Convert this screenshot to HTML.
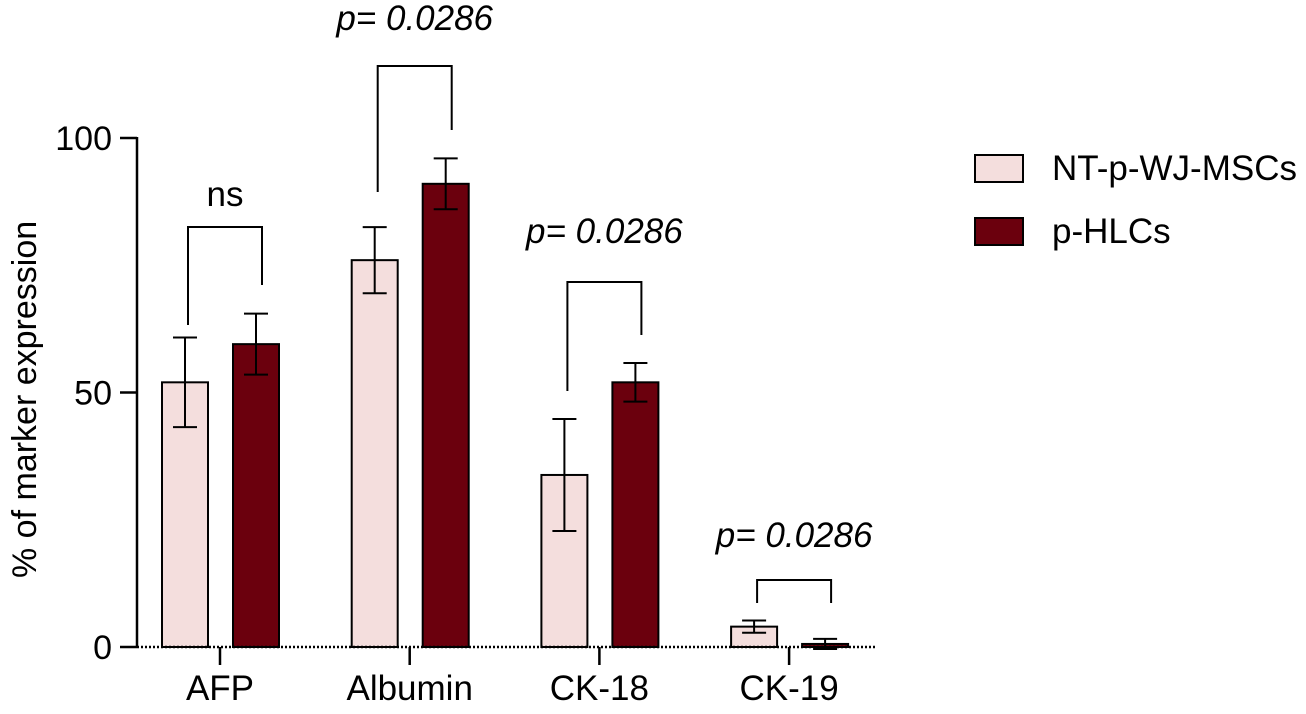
<!DOCTYPE html>
<html><head><meta charset="utf-8"><style>
body{margin:0;background:#fff;}
svg text{font-family:"Liberation Sans",Arial,sans-serif;fill:#000;}
</style></head><body>
<svg id="c" width="1306" height="709" xmlns="http://www.w3.org/2000/svg">
<g id="g"></g>
</svg>
<script>
const categories=["AFP","Albumin","CK-18","CK-19"];
const seriesNames=["NT-p-WJ-MSCs","p-HLCs"];
const lightValues=[52,76,33.8,4];
const lightErrors=[8.8,6.5,11,1.2];
const darkValues=[59.5,91,52,0.6];
const darkErrors=[6,5,3.8,1];
const yTicks=[0,50,100];
const sigLabels=["ns","p= 0.0286","p= 0.0286","p= 0.0286"];
const bracketTops=[227,66,282,580];
const bracketLeftEnds=[325,192,391,603];
const bracketRightEnds=[285,130,335,603];
const labelBaselines=[206,30,243,547];

const NS="http://www.w3.org/2000/svg";
const g=document.getElementById('g');
function y(v){return 647-v*5.09;}
function catX(i){return 220+i*189.7;}
function el(t,a,txt){const e=document.createElementNS(NS,t);for(const k in a)e.setAttribute(k,a[k]);if(txt!==undefined)e.textContent=txt;g.appendChild(e);return e;}
const colors=["#f4dedd","#6b000d"];
let ax=el('line',{x1:137,y1:137,x2:137,y2:648,stroke:'#000','stroke-width':2.5});

yTicks.forEach(t=>{
 let l=el('line',{x1:120,x2:137,y1:y(t),y2:y(t),stroke:'#000','stroke-width':2.5});
 
 let tx=el('text',{x:112,y:y(t)+12,'text-anchor':'end','font-size':34},t);
 
});
let yt=el('text',{transform:'translate(36,578) rotate(-90)','text-anchor':'start','font-size':34},'% of marker expression');

categories.forEach((c,i)=>{
 const cx=catX(i);
 [[lightValues,lightErrors,-35],[darkValues,darkErrors,36]].forEach((s,j)=>{
  const v=s[0][i],e=s[1][i],bx=cx+s[2];
  let r=el('rect',{x:bx-23,y:y(v),width:46,height:647-y(v),fill:colors[j],stroke:'#000','stroke-width':2});
  
  let eb=el('path',{d:`M${bx},${y(v+e)}V${y(v-e)}M${bx-12},${y(v+e)}H${bx+12}M${bx-12},${y(v-e)}H${bx+12}`,stroke:'#000','stroke-width':2,fill:'none'});
  
 });
 let lb=el('text',{x:cx,y:700,'text-anchor':'middle','font-size':35},c);
 
 let tk=el('line',{x1:cx,x2:cx,y1:647,y2:665,stroke:'#000','stroke-width':2.5});
 
 const lx=cx-32,rx=cx+42;
 let br=el('path',{d:`M${lx},${bracketLeftEnds[i]}V${bracketTops[i]}H${rx}V${bracketRightEnds[i]}`,stroke:'#000','stroke-width':2,fill:'none'});
 
 let st=el('text',{x:(lx+rx)/2,y:labelBaselines[i],'text-anchor':'middle','font-size':35,'font-style':i?'italic':'normal'},sigLabels[i]);
 
});
let xa=el('line',{x1:137,y1:647,x2:876,y2:647,stroke:'#000','stroke-width':2.5,'stroke-dasharray':'2 2'});

seriesNames.forEach((n,j)=>{
 let r=el('rect',{x:975,y:155+j*63,width:48,height:27,fill:colors[j],stroke:'#000','stroke-width':2});
 
 let t=el('text',{x:1052,y:180+j*63,'font-size':35},n);
 
});
</script>
</body></html>
